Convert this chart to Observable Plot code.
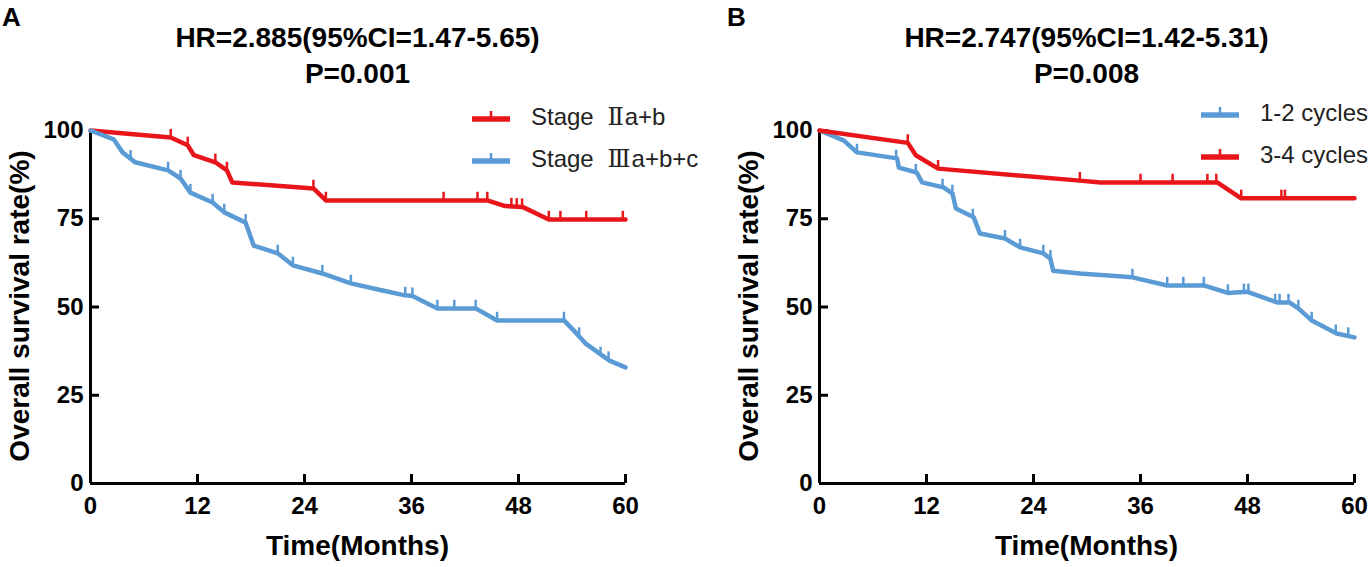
<!DOCTYPE html>
<html>
<head>
<meta charset="utf-8">
<script src="https://cdn.jsdelivr.net/npm/d3@7"></script>
<script src="https://cdn.jsdelivr.net/npm/@observablehq/plot@0.6"></script>
<style>
  body { margin: 0; background: #fff; }
  #wrap { position: relative; width: 1371px; height: 567px; overflow: hidden; font-family: "Liberation Sans", Arial, sans-serif; color: #000; }
  .abs { position: absolute; white-space: nowrap; }
  .panel { position: absolute; top: 0; }
  .letter { font-weight: bold; font-size: 26px; }
  .title { font-weight: bold; font-size: 28px; text-align: center; transform: translateX(-50%); line-height: 36px; }
  .ylab { font-weight: bold; font-size: 28px; transform: translate(-50%, -50%) rotate(-90deg); }
  .xlab { font-weight: bold; font-size: 28px; transform: translate(-50%, -50%); }
  .leg { font-size: 24px; color: #222; display: flex; align-items: center; transform: translateY(-50%); }
  .leg svg { margin-right: 20px; }
  .num { font-family: "DejaVu Serif", "Liberation Serif", serif; margin-left: 7px; margin-right: 1px; }
</style>
</head>
<body>
<div id="wrap"></div>
<script>
// ---------- data ----------
const xTicks = [0, 12, 24, 36, 48, 60];
const yTicks = [0, 25, 50, 75, 100];

// Panel A
const titleA = ["HR=2.885(95%CI=1.47-5.65)", "P=0.001"];
const seriesA = ["Stage \u2161a+b", "Stage \u2162a+b+c"];
const stage2Curve = [[0,100],[9,98],[10.9,95.8],[11.6,93],[14,91],[15.3,88.7],[15.9,85.3],[25,83.6],[26.4,80.2],[44.5,80.2],[46.5,78.6],[48.5,78.3],[51.4,74.8],[60,74.8]];
const stage2Censor = [[9,98],[10.9,95.8],[14,91],[15.3,88.7],[25,83.6],[26.4,80.2],[39.6,80.2],[43.4,80.2],[44.5,80.2],[47.2,78.5],[47.8,78.4],[48.4,78.3],[51.4,74.8],[52.7,74.8],[55.6,74.8],[59.7,74.8]];
const stage3Curve = [[0,100],[2.6,97.5],[3.6,93.8],[4.5,92],[5,91],[8.7,88.7],[10.1,86.4],[11.2,82.4],[13.7,79.6],[15,76.8],[17.4,73.9],[18.3,67.4],[21,65.2],[22.7,61.8],[26,59.5],[29.2,56.7],[32.5,54.8],[35.3,53.3],[36.1,53.1],[38.9,49.6],[43.2,49.6],[45.6,46.2],[53.1,46.2],[54.4,42.8],[55.5,39.7],[58.2,34.8],[60,32.9]];
const stage3Censor = [[4.5,92],[8.7,88.7],[10.1,86.4],[11.2,82.4],[13.7,79.6],[15,76.8],[17.4,73.9],[21,65.2],[22.7,61.8],[26,59.5],[29.2,56.7],[35.3,53.3],[36.1,53.1],[38.9,49.6],[40.8,49.6],[43.2,49.6],[45.6,46.2],[53.1,46.2],[54.8,41.8],[57.2,36.3],[58.1,35]];

// Panel B
const titleB = ["HR=2.747(95%CI=1.42-5.31)", "P=0.008"];
const seriesB = ["1-2 cycles", "3-4 cycles"];
const cyc12Curve = [[0,100],[2.7,97.2],[4.2,93.8],[8.7,92.1],[8.9,89.5],[10.9,88.1],[11.5,85.3],[13.9,83.9],[14.9,82.2],[15.3,77.9],[17.3,75.4],[18,70.8],[20.8,69.4],[22.5,66.9],[25.1,65.2],[25.9,63.7],[26.2,60.3],[29.2,59.5],[35.1,58.4],[39,56.1],[43.1,56.1],[45.8,54],[48,54.3],[51.3,51.3],[52.7,51.3],[53.7,49.6],[55.2,46.2],[58,42.5],[60,41.4]];
const cyc12Censor = [[4.2,93.8],[8.6,92.1],[10.8,88.1],[13.8,83.9],[14.9,82.2],[17.2,75.4],[20.8,69.4],[22.5,66.9],[25.1,65.2],[25.9,63.7],[35.1,58.4],[39,56.1],[40.8,56.1],[43.1,56.1],[45.8,54],[47.6,54.2],[48.1,54.2],[51.1,51.3],[51.6,51.3],[52.6,51.3],[53.7,49.6],[55.2,46.2],[57.9,42.6],[59.3,41.8]];
const cyc34Curve = [[0,100],[9.9,96.5],[10.8,93],[13.3,89.2],[29.2,85.8],[31.5,85.3],[44.6,85.3],[47.3,80.8],[60,80.8]];
const cyc34Censor = [[9.9,96.5],[13.3,89.2],[29.2,85.8],[36,85.3],[39.6,85.3],[43.5,85.3],[44.5,85.3],[47.3,80.8],[51.8,80.8],[52.2,80.8]];

const RED = "#e8161b", BLUE = "#5b9bd5";

function makePlot(series, mr) {
  const marks = [
    Plot.axisX({ticks: xTicks, tickSize: -9, tickPadding: 22, fontSize: 24, fontWeight: "bold", strokeWidth: 3, label: null}),
    Plot.axisY({ticks: yTicks, tickSize: -9, tickPadding: 16, fontSize: 24, fontWeight: "bold", strokeWidth: 3, label: null}),
    Plot.ruleX([0], {y1: 0, y2: 100, strokeWidth: 3}),
    Plot.ruleY([0], {x1: 0, x2: 60, strokeWidth: 3})
  ];
  for (const s of series) {
    marks.push(Plot.line(s.curve, {x: d => d[0], y: d => d[1], stroke: s.color, strokeWidth: 4.5}));
    marks.push(Plot.ruleX(s.censor, {x: d => d[0], y1: d => d[1], y2: d => d[1] + 2.3, stroke: s.color, strokeWidth: 2.5}));
  }
  return Plot.plot({
    width: 90 + 535 + mr, height: 567,
    marginLeft: 90, marginRight: mr, marginTop: 130, marginBottom: 84,
    x: {domain: [0, 60]}, y: {domain: [0, 100]},
    style: {fontFamily: "Liberation Sans, Arial, sans-serif", color: "#000", background: "transparent"},
    marks
  });
}

function swatch(color) {
  return `<svg width="40" height="16"><line x1="1" x2="39" y1="10" y2="10" stroke="${color}" stroke-width="5.5"/><line x1="20" x2="20" y1="2" y2="10" stroke="${color}" stroke-width="2.5"/></svg>`;
}
function fmtName(n) {
  return n.replace(/([\u2160-\u216f])/g, '<span class="num">$1</span>');
}

const wrap = document.getElementById("wrap");

function panel(left, letter, letterX, titles, series, mr, legX, legY) {
  const div = document.createElement("div");
  div.className = "panel";
  div.style.left = left + "px";
  div.appendChild(makePlot(series, mr));
  wrap.appendChild(div);
  const cx = left + 90 + 535 / 2;
  wrap.insertAdjacentHTML("beforeend",
    `<div class="abs letter" style="left:${letterX}px;top:2px">${letter}</div>` +
    `<div class="abs title" style="left:${cx}px;top:20px">${titles[0]}<br>${titles[1]}</div>` +
    `<div class="abs ylab" style="left:${left + 20}px;top:306px">Overall survival rate(%)</div>` +
    `<div class="abs xlab" style="left:${cx}px;top:546px">Time(Months)</div>` +
    series.map((s, i) => `<div class="abs leg" style="left:${legX}px;top:${legY[i]}px">${swatch(s.color)}<span>${fmtName(s.name)}</span></div>`).join("")
  );
}

panel(0, "A", 2, titleA, [
  {name: seriesA[0], curve: stage2Curve, censor: stage2Censor, color: RED},
  {name: seriesA[1], curve: stage3Curve, censor: stage3Censor, color: BLUE}
], 60, 471, [117, 159]);

panel(729, "B", 727, titleB, [
  {name: seriesB[0], curve: cyc12Curve, censor: cyc12Censor, color: BLUE},
  {name: seriesB[1], curve: cyc34Curve, censor: cyc34Censor, color: RED}
], 17, 1200, [113, 155]);
</script>
</body>
</html>
